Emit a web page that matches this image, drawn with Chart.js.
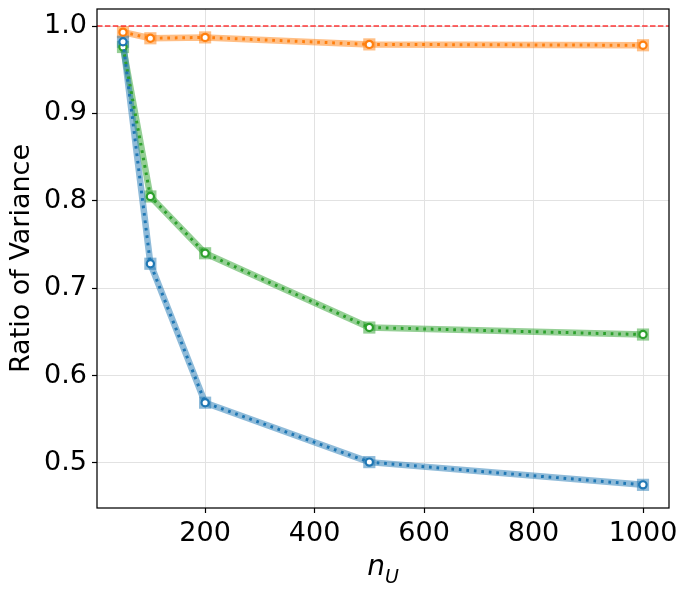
<!DOCTYPE html>
<html>
<head>
<meta charset="utf-8">
<script src="https://cdn.jsdelivr.net/npm/chart.js@4/dist/chart.umd.min.js"></script>
<style>
  body { margin: 0; background: #fff; }
  #wrap { width: 688px; height: 589px; }
</style>
</head>
<body>
<div id="wrap"><canvas id="ratioChart" width="688" height="589"></canvas></div>
<script>
// Data
const nU = [50, 100, 200, 500, 1000];
const blueVals = [0.982, 0.728, 0.569, 0.501, 0.475];
const orangeVals = [0.993, 0.986, 0.987, 0.979, 0.978];
const greenVals = [0.976, 0.805, 0.740, 0.655, 0.647];
const xTicks = [200, 400, 600, 800, 1000];
const yTicks = [0.5, 0.6, 0.7, 0.8, 0.9, 1.0];
const refValue = 1.0;

// Axis limits (matplotlib style 5% margins)
const xMin = 2.5, xMax = 1047.5;
const yMin = 0.4485, yMax = 1.0195;

const FONT = '"DejaVu Sans", sans-serif';

function pts(vals) {
  return nU.map((x, i) => ({ x: x, y: vals[i] }));
}

// each series: thick translucent line with squares + dotted line with hollow circles
function seriesSets(vals, rgb) {
  const solid = 'rgb(' + rgb + ')';
  const soft = 'rgba(' + rgb + ',0.5)';
  return [
    {
      data: pts(vals),
      borderColor: soft,
      borderWidth: 6.5,
      pointStyle: 'rect',
      pointRadius: 8.6,
      pointBackgroundColor: soft,
      pointBorderWidth: 0,
      order: 2
    },
    {
      data: pts(vals),
      borderColor: solid,
      borderWidth: 3,
      borderDash: [2.7, 4.8],
      borderCapStyle: 'butt',
      pointStyle: 'circle',
      pointRadius: 3.6,
      pointBackgroundColor: '#fff',
      pointBorderColor: solid,
      pointBorderWidth: 2.2,
      order: 1
    }
  ];
}

// frame, reference line and x title
const extras = {
  id: 'extras',
  afterDatasetsDraw(chart) {
    const { ctx, chartArea: a, scales } = chart;
    const y = scales.y.getPixelForValue(refValue);
    ctx.save();
    ctx.strokeStyle = 'rgba(255,0,0,0.78)';
    ctx.lineWidth = 1.6;
    ctx.setLineDash([5.5, 2.4]);
    ctx.beginPath();
    ctx.moveTo(a.left, y);
    ctx.lineTo(a.right, y);
    ctx.stroke();
    ctx.restore();
  },
  afterDraw(chart) {
    const { ctx, chartArea: a } = chart;
    ctx.save();
    ctx.strokeStyle = '#000';
    ctx.lineWidth = 1.25;
    ctx.strokeRect(a.left, a.top, a.right - a.left, a.bottom - a.top);

    // x title: italic n with subscript U
    ctx.fillStyle = '#000';
    ctx.textBaseline = 'alphabetic';
    ctx.textAlign = 'left';
    const big = 'italic 28px ' + FONT, small = 'italic 19px ' + FONT;
    ctx.font = big;
    const wn = ctx.measureText('n').width;
    ctx.font = small;
    const wu = ctx.measureText('U').width;
    const x0 = (a.left + a.right) / 2 - (wn + wu) / 2;
    const base = a.bottom + 67;
    ctx.font = big;
    ctx.fillText('n', x0, base);
    ctx.font = small;
    ctx.fillText('U', x0 + wn, base + 8);
    ctx.restore();
  }
};

const datasets = [
  ...seriesSets(blueVals, '31,119,180'),
  ...seriesSets(orangeVals, '255,127,14'),
  ...seriesSets(greenVals, '44,160,44')
];

new Chart(document.getElementById('ratioChart'), {
  type: 'line',
  data: { datasets: datasets },
  options: {
    responsive: false,
    animation: false,
    layout: { padding: { top: 9, right: 19, left: 0, bottom: 0 } },
    plugins: { legend: { display: false }, tooltip: { enabled: false } },
    scales: {
      x: {
        type: 'linear',
        min: xMin,
        max: xMax,
        afterFit(scale) {
          scale.height = 81;
          scale.paddingLeft = 0;
          scale.paddingRight = 0;
        },
        afterBuildTicks(scale) { scale.ticks = xTicks.map(v => ({ value: v })); },
        grid: { color: '#e2e2e2', lineWidth: 1, tickColor: '#000', tickLength: 5, tickWidth: 1.2 },
        border: { display: false },
        ticks: {
          color: '#000',
          font: { family: FONT, size: 27 },
          padding: 5,
          maxRotation: 0,
          callback: v => String(v)
        }
      },
      y: {
        type: 'linear',
        min: yMin,
        max: yMax,
        afterFit(scale) {
          scale.width = 97;
          scale.paddingTop = 0;
          scale.paddingBottom = 0;
        },
        afterBuildTicks(scale) { scale.ticks = yTicks.map(v => ({ value: v })); },
        grid: { color: '#e2e2e2', lineWidth: 1, tickColor: '#000', tickLength: 5, tickWidth: 1.2 },
        border: { display: false },
        ticks: {
          color: '#000',
          font: { family: FONT, size: 27 },
          padding: 5,
          callback: v => v.toFixed(1)
        },
        title: {
          display: true,
          text: 'Ratio of Variance',
          color: '#000',
          font: { family: FONT, size: 27 },
          padding: { top: 6, bottom: 0 }
        }
      }
    }
  },
  plugins: [extras]
});
</script>
</body>
</html>
